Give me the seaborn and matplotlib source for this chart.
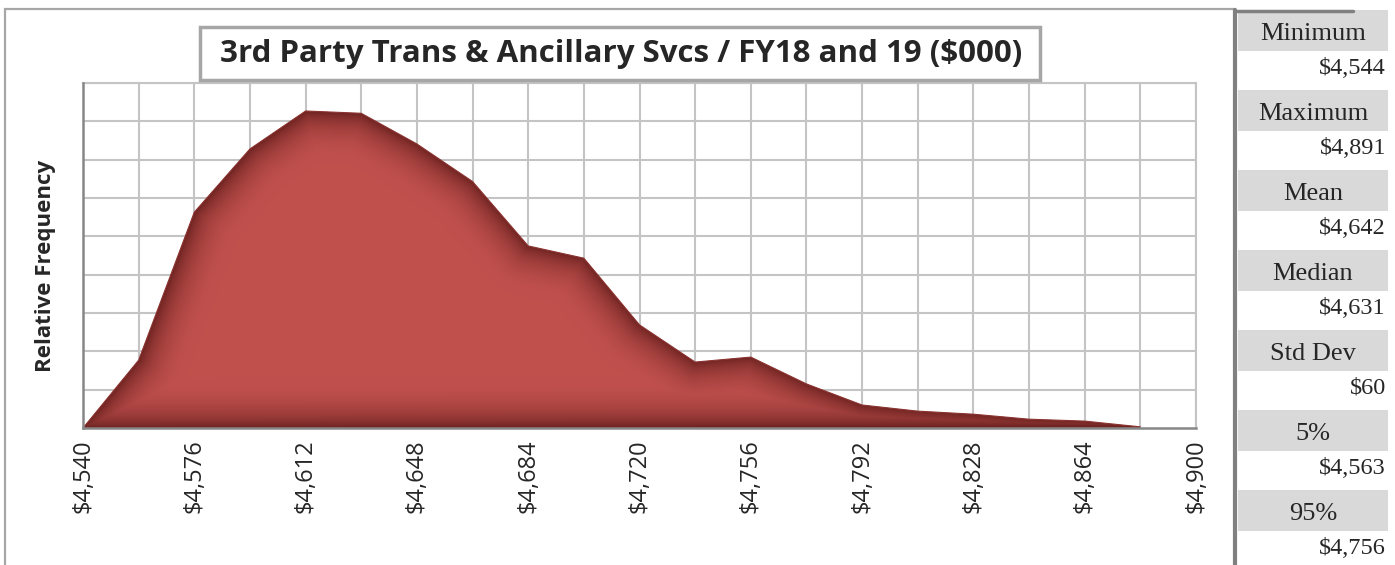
import numpy as np
import pandas as pd
import matplotlib
matplotlib.use("Agg")
import matplotlib.pyplot as plt
from matplotlib.patches import Rectangle
from matplotlib.lines import Line2D
import seaborn as sns

# ---------------- data ----------------
bin_x = [4540, 4558, 4576, 4594, 4612, 4630, 4648, 4666, 4684, 4702,
         4720, 4738, 4756, 4774, 4792, 4810, 4828, 4846, 4864, 4882]
rel_freq = [0.0, 0.0354, 0.1126, 0.1456, 0.1654, 0.1642, 0.1482, 0.1286,
            0.0950, 0.0886, 0.0538, 0.0344, 0.0370, 0.0230, 0.0120,
            0.0088, 0.0072, 0.0046, 0.0036, 0.0006]
major_ticks = [4540, 4576, 4612, 4648, 4684, 4720, 4756, 4792, 4828, 4864, 4900]
minor_ticks = [4558, 4594, 4630, 4666, 4702, 4738, 4774, 4810, 4846, 4882]
y_grid = [0.02, 0.04, 0.06, 0.08, 0.10, 0.12, 0.14, 0.16, 0.18]
title = "3rd Party Trans & Ancillary Svcs / FY18 and 19 ($000)"
ylabel = "Relative Frequency"
stat_labels = ["Minimum", "Maximum", "Mean", "Median", "Std Dev", "5%", "95%"]
stat_values = ["$4,544", "$4,891", "$4,642", "$4,631", "$60", "$4,563", "$4,756"]

df = pd.DataFrame({"value": bin_x, "freq": rel_freq})

# ---------------- figure ----------------
W, H = 1395, 565
sns.set_style("white")
plt.rcParams["font.family"] = ["Open Sans", "DejaVu Sans"]
fig = plt.figure(figsize=(W / 100, H / 100), dpi=100)

def fx(px):
    return px / W

def fy(py):
    return 1 - py / H

XMIN, XMAX, YMAX = 4540, 4900, 0.18
L, R, T, B = 83, 1196, 83, 428
ax = fig.add_axes([fx(L), fy(B), fx(R) - fx(L), fy(T) - fy(B)])

# outline + fill
sns.lineplot(data=df, x="value", y="freq", ax=ax, color="#8B3330", lw=0.8, zorder=4)
poly = ax.fill_between(df["value"], 0, df["freq"], color="none", lw=0, zorder=3)

# path-style shading: dark near boundary, bright inside
pw, ph = R - L, B - T
gx = np.linspace(XMIN, XMAX, pw)
gy = np.linspace(0, YMAX, ph)
GX, GY = np.meshgrid(gx, gy)
PX = (GX - XMIN) / (XMAX - XMIN) * pw
PY = GY / YMAX * ph
vx = [(v - XMIN) / (XMAX - XMIN) * pw for v in bin_x]
vy = [f / YMAX * ph for f in rel_freq]
pts = list(zip(vx, vy)) + [(vx[0], 0.0)]
dist = np.full(PX.shape, 1e9)
for (x0, y0), (x1, y1) in zip(pts[:-1], pts[1:]):
    dx, dy = x1 - x0, y1 - y0
    ll = dx * dx + dy * dy
    t = np.clip(((PX - x0) * dx + (PY - y0) * dy) / ll, 0, 1)
    d = np.hypot(PX - (x0 + t * dx), PY - (y0 + t * dy))
    dist = np.minimum(dist, d)
tt = np.clip(dist / 50.0, 0, 1) ** 0.8
tt = tt * (3 - 2 * tt) * 0.5 + tt * 0.5
c_in = np.array([192, 80, 77]) / 255
c_out = np.array([110, 35, 33]) / 255
img = c_out[None, None, :] + (c_in - c_out)[None, None, :] * tt[:, :, None]
im = ax.imshow(img, extent=[XMIN, XMAX, 0, YMAX], origin="lower",
               aspect="auto", zorder=3, interpolation="bilinear")
im.set_clip_path(poly.get_paths()[0], transform=ax.transData)

ax.set_xlim(XMIN, XMAX)
ax.set_ylim(0, YMAX)
ax.set_xticks(major_ticks)
ax.set_xticks(minor_ticks, minor=True)
ax.set_xticklabels(["${:,}".format(v) for v in major_ticks], rotation=90,
                   fontsize=17, family=["Open Sans", "DejaVu Sans"])
ax.set_yticks(y_grid)
ax.set_yticklabels([])
ax.tick_params(axis="y", length=0)
ax.tick_params(axis="x", which="both", direction="out", length=9, width=1.5,
               color="#878787", pad=-1)
ax.grid(True, which="both", axis="x", color="#C4C4C4", lw=1.5, zorder=1)
ax.grid(True, which="major", axis="y", color="#C4C4C4", lw=1.5, zorder=1)
ax.set_axisbelow(True)
for s in ["left", "bottom"]:
    ax.spines[s].set_color("#878787")
    ax.spines[s].set_linewidth(1.8)
for s in ["top", "right"]:
    ax.spines[s].set_color("#C4C4C4")
    ax.spines[s].set_linewidth(1.5)
ax.set_xlabel("")
ax.set_ylabel("")
ax.spines["left"].set_zorder(5)
ax.spines["bottom"].set_zorder(5)

fig.text(fx(46), fy(266), ylabel, rotation=90, ha="center", va="center",
         fontsize=16, fontweight="bold")

# outer chart border
fig.add_artist(Rectangle((fx(5), fy(600)), fx(1235) - fx(5), fy(9) - fy(600),
                         transform=fig.transFigure, fill=False,
                         ec="#A6A6A6", lw=1.6, zorder=0))

# title box
fig.add_artist(Rectangle((fx(200), fy(80)), fx(1040) - fx(200), fy(27) - fy(80),
                         transform=fig.transFigure, fc="white",
                         ec="#A6A6A6", lw=2.5, zorder=6))
fig.text(fx(621), fy(54), title, ha="center", va="center", fontsize=22.5,
         fontweight="bold", zorder=7)

# stats panel
for i, (lab, val) in enumerate(zip(stat_labels, stat_values)):
    top = 10 + 80 * i
    fig.add_artist(Rectangle((fx(1238), fy(top + 41)), fx(1388) - fx(1238),
                             fy(top) - fy(top + 41), transform=fig.transFigure,
                             fc="#D9D9D9", ec="none", zorder=1))
    fig.text(fx(1313), fy(top + 24), lab, ha="center", va="center",
             fontsize=19, family=["Liberation Serif"], zorder=2)
    fig.text(fx(1386), fy(top + 58), val, ha="right", va="center",
             fontsize=17.5, family=["Liberation Serif"], zorder=2)
fig.add_artist(Line2D([fx(1235), fx(1235)], [fy(10), fy(570)],
                      transform=fig.transFigure, color="#808080", lw=3, zorder=3))
fig.add_artist(Line2D([fx(1235), fx(1353)], [fy(11), fy(11)],
                      transform=fig.transFigure, color="#808080", lw=2.5, zorder=3))

fig.savefig("out.png", dpi=100)
